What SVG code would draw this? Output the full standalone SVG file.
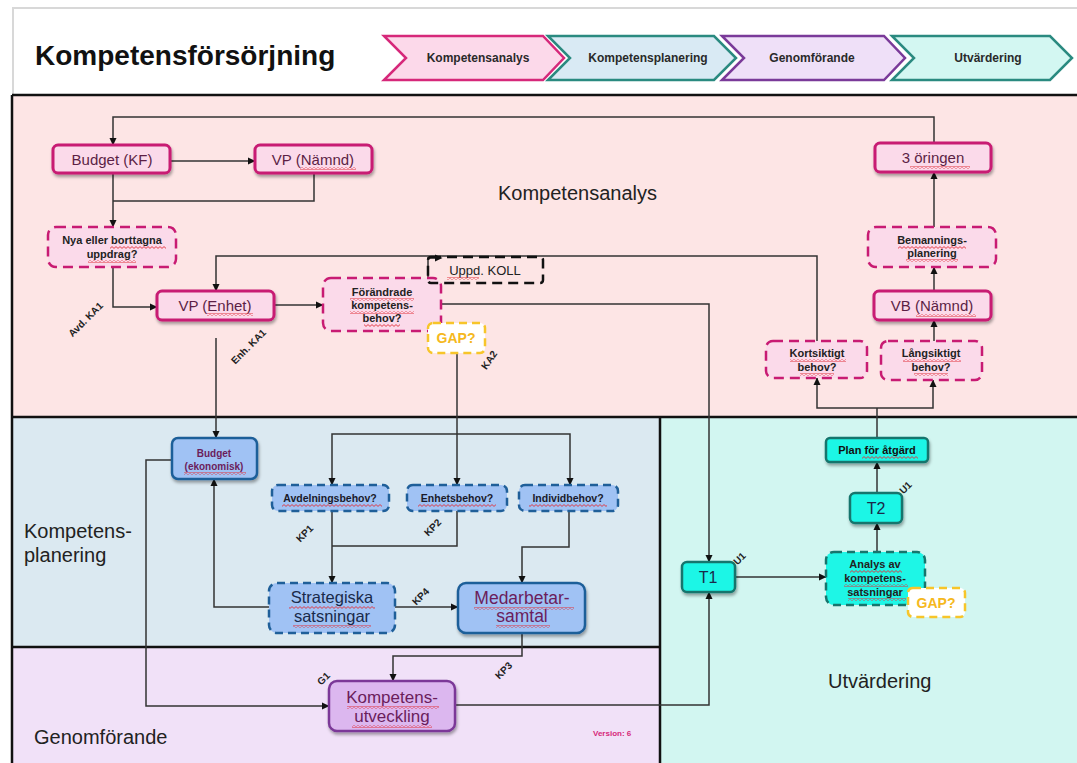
<svg xmlns="http://www.w3.org/2000/svg" width="1077" height="763" viewBox="0 0 1077 763">
<defs>
<marker id="ah" markerWidth="8" markerHeight="8" refX="7" refY="4" orient="auto" markerUnits="userSpaceOnUse"><path d="M0,0.5 L7.5,4 L0,7.5 Z" fill="#111"/></marker>
<marker id="ahs" markerWidth="8" markerHeight="8" refX="1" refY="4" orient="auto-start-reverse" markerUnits="userSpaceOnUse"><path d="M0,0.5 L7.5,4 L0,7.5 Z" fill="#111"/></marker>
<filter id="sh" x="-20%" y="-20%" width="140%" height="160%"><feDropShadow dx="1" dy="2.5" stdDeviation="1.5" flood-color="#000" flood-opacity="0.35"/></filter>
<pattern id="sq" width="4" height="3" patternUnits="userSpaceOnUse"><path d="M0,0.6 L2,2.4 L4,0.6" fill="none" stroke="#e0303a" stroke-width="0.9"/></pattern>
</defs>
<style>
.lbl{font-family:"Liberation Sans",Arial,sans-serif;fill:#222;font-size:20px}
.t{font-family:"Liberation Sans",Arial,sans-serif;text-anchor:middle}
.chev{font-family:"Liberation Sans",Arial,sans-serif;text-anchor:middle;font-weight:bold;font-size:12px;fill:#2a2a2a}
.mag{fill:#fbdaea;stroke:#c81b73;stroke-width:3}
.magd{fill:#fbdaea;stroke:#c81b73;stroke-width:2.5;stroke-dasharray:10 6}
.blu{fill:#a0c2f4;stroke:#1f5f99;stroke-width:2.5}
.blud{fill:#a0c2f4;stroke:#1f5f99;stroke-width:2.5;stroke-dasharray:8 5}
.pur{fill:#dcb7ef;stroke:#7b3998;stroke-width:2.5}
.cy{fill:#1ef6e6;stroke:#17756d;stroke-width:2.5}
.cyd{fill:#1ef6e6;stroke:#17756d;stroke-width:2.5;stroke-dasharray:8 5}
.gap{fill:#fff;stroke:#f7c52a;stroke-width:2.5;stroke-dasharray:8 5}
.gapt{font-family:"Liberation Sans",Arial,sans-serif;text-anchor:middle;font-weight:bold;font-size:14px;fill:#f5b820}
.mt{fill:#5c1f45;font-size:15px}
.st{fill:#222;font-size:11px;font-weight:bold}
.con path{fill:none;stroke:#333;stroke-width:1.5}
.rl{font-family:"Liberation Sans",Arial,sans-serif;font-size:10px;font-weight:bold;fill:#222;text-anchor:middle}
.sq{fill:url(#sq)}
</style>

<!-- header -->
<rect x="0" y="0" width="1077" height="95" fill="#fff"/>
<path d="M13,95 L13,8 L1077,8" fill="none" stroke="#d8d8d8" stroke-width="2"/>
<text x="35" y="65" font-family="Liberation Sans,Arial,sans-serif" font-weight="bold" font-size="28" fill="#111">Kompetensförsörjning</text>
<g id="chevrons">
<path d="M384,36 L543,36 L564,58 L543,80 L384,80 L406,58 Z" fill="#fcd9ea" stroke="#d6287a" stroke-width="2.5"/>
<text class="chev" x="478" y="62">Kompetensanalys</text>
<path d="M548,36 L714,36 L736,58 L714,80 L548,80 L570,58 Z" fill="#d9eaf4" stroke="#2a8a80" stroke-width="2.5"/>
<text class="chev" x="648" y="62">Kompetensplanering</text>
<path d="M722,36 L884,36 L905,58 L884,80 L722,80 L744,58 Z" fill="#efe0f8" stroke="#7a3a99" stroke-width="2.5"/>
<text class="chev" x="812" y="62">Genomförande</text>
<path d="M892,36 L1050,36 L1072,58 L1050,80 L892,80 L914,58 Z" fill="#d3f7f2" stroke="#2a8a80" stroke-width="2.5"/>
<text class="chev" x="988" y="62">Utvärdering</text>
</g>

<!-- regions -->
<g id="regions">
<rect x="12" y="95" width="1065" height="322" fill="#fde5e5"/>
<rect x="12" y="417" width="648" height="230" fill="#dbe9f1"/>
<rect x="12" y="647" width="648" height="116" fill="#f1e1f8"/>
<rect x="660" y="417" width="417" height="346" fill="#d2f6f1"/>
<path d="M12,95 L1077,95 M12,417 L1077,417 M12,647 L660,647 M12,95 L12,763 M660,417 L660,763" fill="none" stroke="#111" stroke-width="2.5"/>
<text class="lbl" x="498" y="200">Kompetensanalys</text>
<text class="lbl" x="24" y="538">Kompetens-</text>
<text class="lbl" x="24" y="562">planering</text>
<text class="lbl" x="34" y="744">Genomförande</text>
<text class="lbl" x="828" y="688">Utvärdering</text>
<text x="593" y="736" font-family="Liberation Sans,Arial,sans-serif" font-size="8" font-weight="bold" fill="#d6287a">Version: 6</text>
</g>

<!-- connectors -->
<g id="connectors" class="con">
<path d="M934,143 L934,117 L113,117 L113,145" marker-end="url(#ah)"/>
<path d="M170,161 L255,161" marker-end="url(#ah)"/>
<path d="M113,173 L113,227" marker-end="url(#ah)"/>
<path d="M314,173 L314,201 L113,201"/>
<path d="M113,267 L113,307 L157,307" marker-end="url(#ah)"/>
<path d="M817,341 L817,256 L216,256 L216,291" marker-end="url(#ah)"/>
<path d="M274,305 L323,305" marker-end="url(#ah)"/>
<path d="M441,304 L709,304 L709,562" marker-end="url(#ah)"/>
<path d="M436,258 L428,258 L428,283 L440,283" marker-start="url(#ahs)" marker-end="url(#ah)"/>
<path d="M457,353 L457,485" marker-end="url(#ah)"/>
<path d="M457,434 L332,434 L332,485" marker-end="url(#ah)"/>
<path d="M457,434 L570,434 L570,485" marker-end="url(#ah)"/>
<path d="M216,338 L216,438" marker-end="url(#ah)"/>
<path d="M172,460 L146,460 L146,706 L329,706" marker-end="url(#ah)"/>
<path d="M332,511 L332,583" marker-end="url(#ah)"/>
<path d="M457,511 L457,546 L332,546"/>
<path d="M569,511 L569,547 L522,547 L522,583" marker-end="url(#ah)"/>
<path d="M395,607 L458,607" marker-end="url(#ah)"/>
<path d="M269,607 L214,607 L214,479" marker-end="url(#ah)"/>
<path d="M522,633 L522,656 L393,656 L393,681" marker-end="url(#ah)"/>
<path d="M455,705 L709,705 L709,592" marker-end="url(#ah)"/>
<path d="M735,577 L826,577" marker-end="url(#ah)"/>
<path d="M877,552 L877,523" marker-end="url(#ah)"/>
<path d="M877,493 L877,462" marker-end="url(#ah)"/>
<path d="M877,438 L877,408"/>
<path d="M877,408 L817,408 L817,378" marker-end="url(#ah)"/>
<path d="M877,408 L933,408 L933,380" marker-end="url(#ah)"/>
<path d="M934,341 L934,320" marker-end="url(#ah)"/>
<path d="M934,291 L934,267" marker-end="url(#ah)"/>
<path d="M934,227 L934,172" marker-end="url(#ah)"/>
</g>

<!-- connector labels -->
<g id="connector-labels">
<text class="rl" transform="translate(88,322) rotate(-45)">Avd. KA1</text>
<text class="rl" transform="translate(251,349) rotate(-45)">Enh. KA1</text>
<text class="rl" transform="translate(492,362) rotate(-55)">KA2</text>
<text class="rl" transform="translate(307,536) rotate(-45)">KP1</text>
<text class="rl" transform="translate(435,530) rotate(-45)">KP2</text>
<text class="rl" transform="translate(423,599) rotate(-45)">KP4</text>
<text class="rl" transform="translate(506,673) rotate(-45)">KP3</text>
<text class="rl" transform="translate(326,681) rotate(-45)">G1</text>
<text class="rl" transform="translate(742,561) rotate(-45)">U1</text>
<text class="rl" transform="translate(908,490) rotate(-45)">U1</text>
</g>

<!-- nodes -->
<g id="budget-kf"><rect class="mag" x="53" y="145" width="117" height="28" rx="5" filter="url(#sh)"/><text class="t mt" x="112" y="165">Budget (KF)</text></g>
<g id="vp-namnd"><rect class="mag" x="255" y="145" width="117" height="28" rx="5" filter="url(#sh)"/><text class="t mt" x="313" y="165">VP (Nämnd)</text><rect class="sq" x="300" y="167" width="56" height="3"/></g>
<g id="nya-uppdrag"><rect class="magd" x="48" y="227" width="128" height="40" rx="8"/><text class="t st" x="112" y="244">Nya eller borttagna</text><text class="t st" x="112" y="258">uppdrag?</text><rect class="sq" x="110" y="246" width="56" height="3"/><rect class="sq" x="88" y="260" width="48" height="3"/></g>
<g id="vp-enhet"><rect class="mag" x="157" y="291" width="117" height="29" rx="5" filter="url(#sh)"/><text class="t mt" x="215" y="311">VP (Enhet)</text><rect class="sq" x="207" y="313" width="46" height="3"/></g>
<g id="forandrade"><rect class="magd" x="323" y="278" width="118" height="53" rx="8"/><text class="t st" x="382" y="296">Förändrade</text><text class="t st" x="382" y="309">kompetens-</text><text class="t st" x="382" y="322">behov?</text><rect class="sq" x="350" y="298" width="64" height="3"/><rect class="sq" x="350" y="311" width="64" height="3"/><rect class="sq" x="364" y="324" width="36" height="3"/></g>
<g id="uppd-koll"><rect x="428" y="257" width="115" height="26" fill="none" stroke="#111" stroke-width="2.5" stroke-dasharray="10 6" rx="3"/><text class="t" x="485" y="275" font-size="13" fill="#222">Uppd. KOLL</text><rect class="sq" x="447" y="277" width="32" height="3"/></g>
<g id="gap-1"><rect class="gap" x="428" y="323" width="57" height="30" rx="5"/><text class="gapt" x="456" y="343">GAP?</text></g>
<g id="tre-oringen"><rect class="mag" x="875" y="143" width="116" height="29" rx="5" filter="url(#sh)"/><text class="t mt" x="933" y="163" font-size="16">3 öringen</text><rect class="sq" x="910" y="166" width="60" height="3"/></g>
<g id="bemanning"><rect class="magd" x="868" y="227" width="128" height="40" rx="8"/><text class="t st" x="932" y="244">Bemannings-</text><text class="t st" x="932" y="257">planering</text><rect class="sq" x="898" y="246" width="68" height="3"/><rect class="sq" x="906" y="259" width="52" height="3"/></g>
<g id="vb-namnd"><rect class="mag" x="874" y="291" width="117" height="29" rx="5" filter="url(#sh)"/><text class="t mt" x="932" y="311" font-size="16">VB (Nämnd)</text><rect class="sq" x="916" y="314" width="60" height="3"/></g>
<g id="kortsiktigt"><rect class="magd" x="766" y="341" width="101" height="37" rx="7"/><text class="t st" x="817" y="357">Kortsiktigt</text><text class="t st" x="817" y="371">behov?</text><rect class="sq" x="790" y="359" width="56" height="3"/><rect class="sq" x="800" y="373" width="34" height="3"/></g>
<g id="langsiktigt"><rect class="magd" x="881" y="341" width="101" height="39" rx="7"/><text class="t st" x="931" y="357">Långsiktigt</text><text class="t st" x="931" y="371">behov?</text><rect class="sq" x="903" y="359" width="58" height="3"/><rect class="sq" x="914" y="373" width="34" height="3"/></g>

<g id="budget-ekonomisk"><rect class="blu" x="172" y="438" width="85" height="41" rx="6" filter="url(#sh)"/><text class="t" x="214" y="457" font-size="10" font-weight="bold" fill="#6b1d5c">Budget</text><text class="t" x="214" y="470" font-size="10" font-weight="bold" fill="#6b1d5c">(ekonomisk)</text><rect class="sq" x="184" y="472" width="62" height="3"/></g>
<g id="avdelningsbehov"><rect class="blud" x="272" y="485" width="117" height="26" rx="6"/><text class="t" x="330" y="502" font-size="10.5" font-weight="bold" fill="#1a1a2a">Avdelningsbehov?</text><rect class="sq" x="282" y="504" width="100" height="3"/></g>
<g id="enhetsbehov"><rect class="blud" x="407" y="485" width="100" height="26" rx="6"/><text class="t" x="457" y="502" font-size="10.5" font-weight="bold" fill="#1a1a2a">Enhetsbehov?</text><rect class="sq" x="418" y="504" width="78" height="3"/></g>
<g id="individbehov"><rect class="blud" x="519" y="485" width="99" height="26" rx="6"/><text class="t" x="568" y="502" font-size="10.5" font-weight="bold" fill="#1a1a2a">Individbehov?</text><rect class="sq" x="529" y="504" width="78" height="3"/></g>
<g id="strategiska"><rect class="blud" x="269" y="583" width="126" height="50" rx="8"/><text class="t" x="332" y="603" font-size="16.5" fill="#1a2a4a">Strategiska</text><text class="t" x="332" y="622" font-size="16.5" fill="#1a2a4a">satsningar</text><rect class="sq" x="289" y="606" width="86" height="3"/><rect class="sq" x="293" y="625" width="78" height="3"/></g>
<g id="medarbetarsamtal"><rect class="blu" x="458" y="583" width="127" height="50" rx="8" filter="url(#sh)"/><text class="t" x="522" y="604" font-size="17.5" fill="#6b1d5c">Medarbetar-</text><text class="t" x="522" y="622" font-size="17.5" fill="#6b1d5c">samtal</text><rect class="sq" x="474" y="607" width="100" height="3"/><rect class="sq" x="496" y="625" width="54" height="3"/></g>
<g id="kompetensutveckling"><rect class="pur" x="329" y="681" width="126" height="50" rx="8" filter="url(#sh)"/><text class="t" x="392" y="703" font-size="17" fill="#6b1d5c">Kompetens-</text><text class="t" x="392" y="722" font-size="17" fill="#6b1d5c">utveckling</text><rect class="sq" x="347" y="706" width="92" height="3"/><rect class="sq" x="352" y="725" width="80" height="3"/></g>

<g id="t1"><rect class="cy" x="682" y="562" width="53" height="30" rx="5" filter="url(#sh)"/><text class="t" x="708" y="583" font-size="16" fill="#1a2a4a">T1</text></g>
<g id="t2"><rect class="cy" x="850" y="493" width="52" height="30" rx="5" filter="url(#sh)"/><text class="t" x="876" y="514" font-size="16" fill="#1a2a4a">T2</text></g>
<g id="plan-atgard"><rect class="cy" x="826" y="438" width="102" height="24" rx="4" filter="url(#sh)"/><text class="t" x="877" y="454" font-size="11" font-weight="bold" fill="#111">Plan för åtgärd</text><rect class="sq" x="862" y="456" width="56" height="3"/></g>
<g id="analys"><rect class="cyd" x="826" y="552" width="99" height="53" rx="8"/><text class="t st" x="875" y="568">Analys av</text><text class="t st" x="875" y="582">kompetens-</text><text class="t st" x="875" y="596">satsningar</text><rect class="sq" x="850" y="570" width="52" height="3"/><rect class="sq" x="844" y="584" width="64" height="3"/><rect class="sq" x="848" y="598" width="58" height="3"/></g>
<g id="gap-2"><rect class="gap" x="908" y="588" width="57" height="29" rx="5"/><text class="gapt" x="936" y="608">GAP?</text></g>
</svg>
